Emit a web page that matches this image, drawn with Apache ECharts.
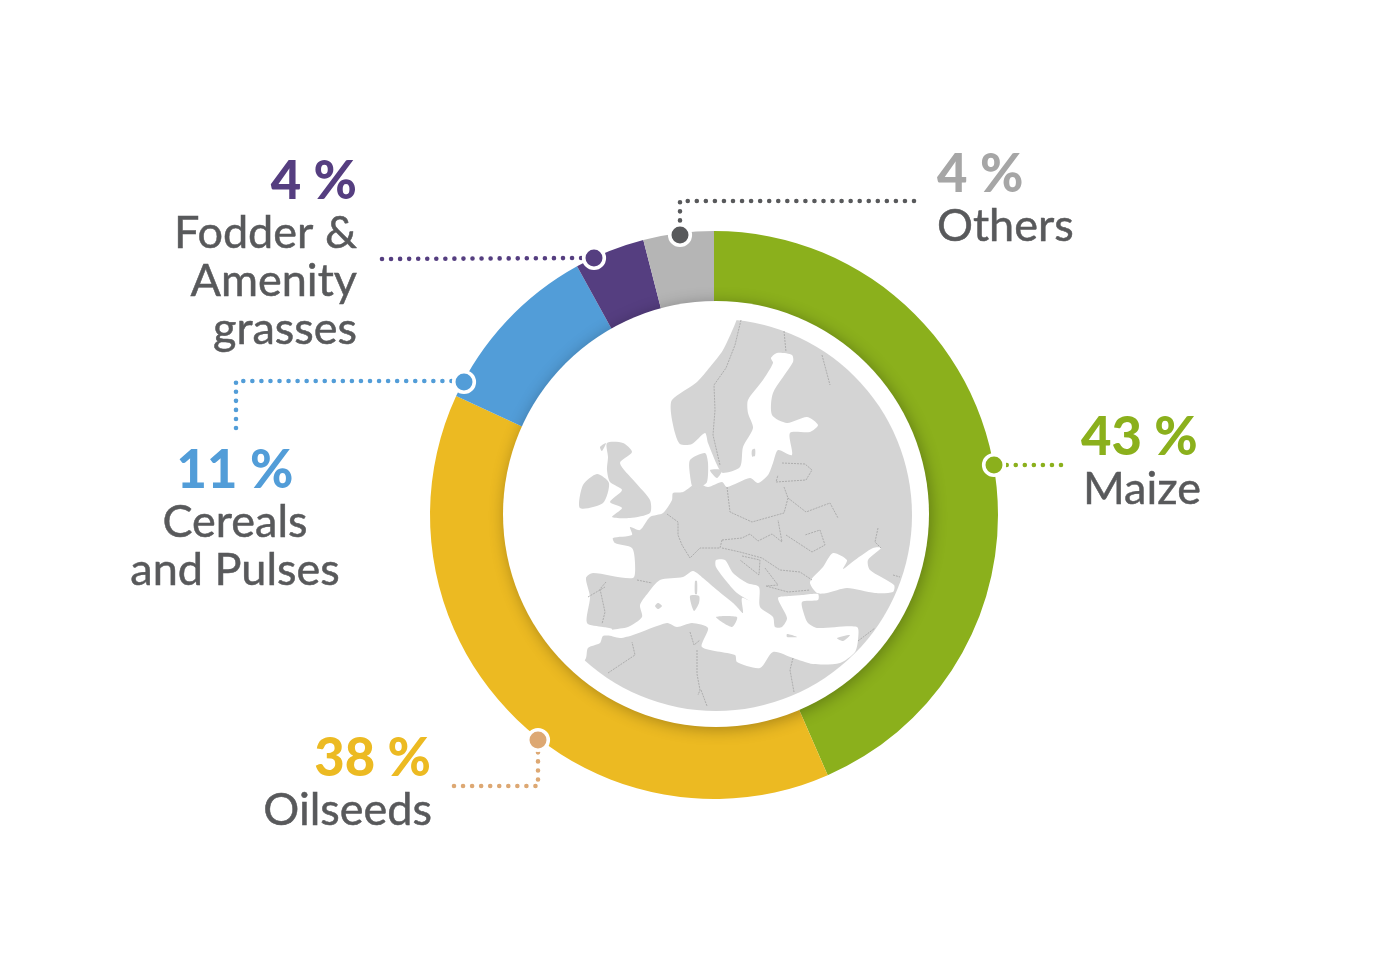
<!DOCTYPE html>
<html lang="en">
<head>
    <meta charset="UTF-8">
    <title>Crop shares</title>
    <script src="https://cdn.jsdelivr.net/npm/echarts@6/dist/echarts.min.js"></script>
    <style>
        html, body { margin: 0; height: 100%; background: #ffffff; }
        #chart { width: 1400px; height: 967px; }
    </style>
</head>
<body>
    <div id="chart"></div>
    <script>
        let names = ['Maize', 'Oilseeds', 'Cereals and Pulses', 'Fodder & Amenity grasses', 'Others'];
        // slice sizes as measured from the ring, printed shares below
        let sliceValues = [43.4, 38.4, 10.1, 4, 4];
        let printedShares = ['43 %', '38 %', '11 %', '4 %', '4 %'];
        let colors = ['#8bb01c', '#ecba22', '#529dd8', '#553e80', '#b5b5b5'];

        let textGrey = '#58595b';
        let font = 'Lato, "Open Sans", sans-serif';
        let seaWhite = '#ffffff';
        let land = '#d4d4d4';
        let border = '#a2a2a2';

        // ---- background map, drawn as grey disc with white seas on top
        let mapX = 716, mapY = 515, mapR = 196;

        let atlantic = [[737,319],[723,350],[710,367],[697,382],[672,400],[671,413],[675,433],[680,444],[692,444],[705,433],
            [708,443],[718,467],[723,473],[740,467],[743,447],[753,428],[748,413],[748,400],[763,380],[773,363],[771,358],[777,353],
            [792,355],[793,362],[773,393],[772,415],[787,423],[807,417],[818,425],[810,432],[790,433],[792,455],[778,450],[773,463],
            [768,475],[758,483],[750,478],[727,487],[722,482],[708,487],[697,483],[683,492],[673,493],[672,500],[663,513],[650,517],
            [640,530],[630,527],[632,535],[613,538],[615,543],[632,548],[635,563],[633,578],[593,573],[586,578],[590,597],[587,623],
            [603,627],[612,629],[612,635],[603,636],[600,643],[588,648],[586,658]];
        for (let a = 132; a <= 276; a += 6) {
            atlantic.push([mapX + 204 * Math.cos(a * Math.PI / 180), mapY + 204 * Math.sin(a * Math.PI / 180)]);
        }
        let mediterranean = [[612,630],[628,627],[642,617],[640,605],[648,593],[660,580],[683,577],[693,571],[703,578],[717,590],
            [733,603],[737,607],[743,613],[742,598],[753,603],[737,593],[727,582],[716,567],[716,560],[725,560],[733,573],[747,583],
            [759,587],[760,607],[773,617],[775,627],[782,627],[787,618],[778,598],[790,596],[802,595],[818,594],[818,600],[802,602],
            [805,617],[808,623],[817,628],[857,627],[858,640],[855,652],[840,663],[813,664],[793,658],[773,652],[760,668],[737,662],
            [735,655],[702,647],[708,628],[692,623],[677,627],[667,623],[633,635],[620,638],[607,634]];
        let blackSea = [[833,553],[847,560],[843,569],[855,560],[873,548],[881,548],[868,560],[870,570],[894,585],[893,592],[875,593],
            [847,588],[827,593],[817,593],[810,582],[823,567]];
        let islands = [
            [[583,485],[597,474],[609,483],[603,503],[580,508]], // Ireland
            [[607,443],[623,443],[632,452],[620,463],[635,482],[650,500],[650,513],[630,518],[612,517],[622,508],[610,502],[622,490],[610,482],[607,470],[608,457]], // Britain
            [[690,460],[705,453],[708,463],[707,482],[700,487],[693,488],[690,475]], // Jutland
            [[710,470],[722,470],[717,478]],
            [[752,450],[755,449],[755,456],[752,456]],
            [[695,581],[697,581],[697,594],[695,594]], // Corsica
            [[690,596],[699,596],[699,603],[694,611]], // Sardinia
            [[716,617],[737,617],[732,627]], // Sicily
            [[658,603],[662,606],[658,609],[655,606]],
            [[787,634],[797,637],[787,637]],
            [[837,638],[850,635],[843,641]],
            [[600,447],[606,443],[602,451]]
        ];
        let borders = [
            [[741,320],[735,345],[726,368],[714,385],[715,410],[713,435],[720,465]],
            [[784,331],[786,352]],
            [[822,355],[830,385]],
            [[782,463],[805,464],[812,470],[806,480],[776,482],[778,475]],
            [[727,487],[730,512],[752,522],[784,513],[788,498],[784,487]],
            [[788,498],[806,512],[830,503],[838,518]],
            [[667,514],[678,522],[678,535],[682,545],[690,558],[700,548],[720,548],[722,540]],
            [[722,540],[742,538],[750,534],[758,541],[772,534],[782,542],[778,520]],
            [[722,548],[740,552],[762,558],[780,570],[800,572],[812,580]],
            [[742,556],[760,560],[759,575],[740,560]],
            [[765,568],[778,585],[766,586]],
            [[766,586],[788,592],[810,590]],
            [[786,535],[812,552],[825,545],[820,530],[805,535]],
            [[878,528],[875,542],[881,548]],
            [[893,575],[900,577]],
            [[606,582],[600,589],[605,612],[602,624]],
            [[588,597],[605,587]],
            [[637,580],[652,583]],
            [[608,673],[635,655],[632,642]],
            [[690,632],[694,645],[700,640]],
            [[697,650],[697,674],[700,690],[698,695]],
            [[701,690],[707,706]],
            [[793,658],[790,670],[794,692]],
            [[858,641],[875,628]]
        ];

        function polygon(points, fill, z) {
            return { type: 'polygon', silent: true, z: z, shape: { points: points, smooth: 0.25 }, style: { fill: fill } };
        }

        let elements = [
            // white disc, its shadow falls on the inner edge of the ring
            { type: 'circle', silent: true, z: 10, shape: { cx: 716, cy: 514, r: 213 },
              style: { fill: '#ffffff', shadowBlur: 16, shadowColor: 'rgba(0,0,0,0.3)', shadowOffsetX: 2, shadowOffsetY: 2 } },
            { type: 'circle', silent: true, z: 11, shape: { cx: mapX, cy: mapY, r: mapR }, style: { fill: land } },
            polygon(atlantic, seaWhite, 12),
            polygon(mediterranean, seaWhite, 12),
            polygon(blackSea, seaWhite, 12)
        ];
        islands.forEach(p => elements.push(polygon(p, land, 13)));
        borders.forEach(p => elements.push({
            type: 'polyline', silent: true, z: 14, shape: { points: p },
            style: { stroke: border, lineWidth: 0.8, fill: null, lineDash: [2, 1] }
        }));

        // ---- callouts: dotted leader and round marker on the ring
        function callout(points, cx, cy, color) {
            elements.push({
                type: 'polyline', silent: true, z: 20, shape: { points: points },
                style: { stroke: color, lineWidth: 4.6, lineCap: 'round', lineDash: [0, 9.05], fill: null }
            });
            elements.push({
                type: 'circle', silent: true, z: 21, shape: { cx: cx, cy: cy, r: 10.3 },
                style: { fill: color, stroke: '#ffffff', lineWidth: 3.6 }
            });
        }
        callout([[1061,465],[1004,465]], 994, 465, colors[0]);
        callout([[454,786],[538,786],[538,750]], 538, 740, '#dda873');
        callout([[236,428],[236,381],[454,381]], 464, 382, colors[2]);
        callout([[382,259],[586,258]], 594, 258, colors[3]);
        callout([[914,201],[680,201],[680,225]], 680, 235, textGrey);

        // ---- text
        function text(str, x, y, align, size, weight, color, heft) {
            elements.push({
                type: 'text', silent: true, z: 30, x: x, y: y,
                style: { text: str, fill: color, stroke: color, lineWidth: heft, font: weight + ' ' + size + 'px ' + font, textAlign: align, textVerticalAlign: 'middle' }
            });
        }
        let shareSize = 52.5, labelSize = 45;
        function share(i, x, y, align, color) { text(printedShares[i], x, y, align, shareSize, 900, color, 0); }
        function label(str, x, y, align) { text(str, x, y, align, labelSize, 400, textGrey, 0.5); }
        share(0, 1081, 438, 'left', colors[0]);
        label('Maize', 1083, 489, 'left');
        share(1, 431, 759, 'right', colors[1]);
        label('Oilseeds', 432, 810, 'right');
        share(2, 235, 471, 'center', colors[2]);
        label('Cereals', 235, 522, 'center');
        label('and Pulses', 235, 570, 'center');
        share(3, 357, 182, 'right', colors[3]);
        label('Fodder &', 357, 233, 'right');
        label('Amenity', 357, 281, 'right');
        label('grasses', 357, 329, 'right');
        share(4, 937, 175, 'left', '#a6a6a6');
        label('Others', 937, 226, 'left');

        let option = {
            backgroundColor: '#ffffff',
            animation: false,
            graphic: { elements: elements },
            series: [
                {
                    type: 'pie',
                    silent: true,
                    center: [714, 515],
                    radius: [190, 284],
                    startAngle: 90,
                    clockwise: true,
                    label: { show: false },
                    labelLine: { show: false },
                    data: names.map((n, i) => ({ name: n, value: sliceValues[i], itemStyle: { color: colors[i] } }))
                }
            ]
        };

        let chart = echarts.init(document.getElementById('chart'));
        chart.setOption(option);
    </script>
</body>
</html>
